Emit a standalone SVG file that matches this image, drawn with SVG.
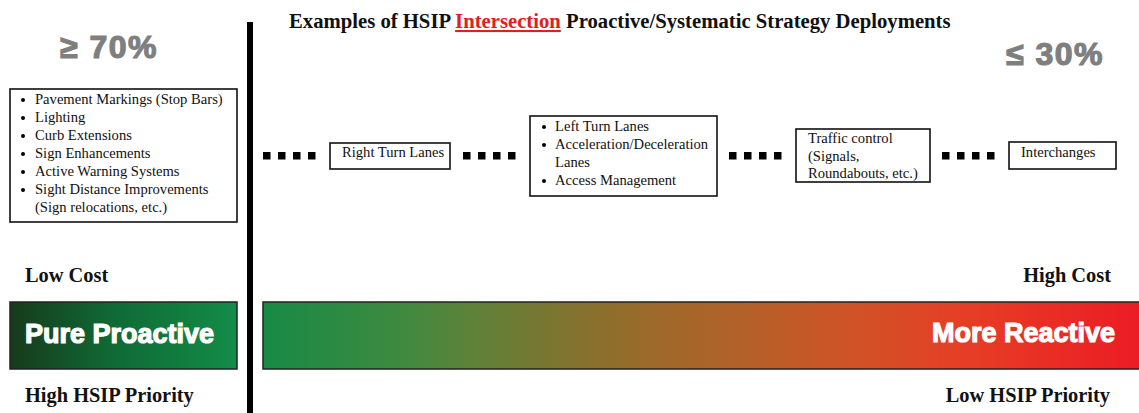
<svg xmlns="http://www.w3.org/2000/svg" width="1139" height="413" viewBox="0 0 1139 413">
<style>
.t{font-family:"Liberation Serif","Times New Roman",serif;font-size:14.6px;fill:#111}
.b{font-family:"Liberation Serif","Times New Roman",serif;font-size:20.4px;font-weight:bold;fill:#111}
.pct{font-family:"Liberation Sans",Arial,sans-serif;font-size:32px;font-weight:bold;fill:#7f7f7f;stroke:#7f7f7f;stroke-width:1.2;letter-spacing:1.5px}
.bar{font-family:"Liberation Sans",Arial,sans-serif;font-size:27px;font-weight:bold;fill:#fff;stroke:#fff;stroke-width:1.2}
.box{fill:#fff;stroke:#111;stroke-width:1.6}
.dot{fill:#000}
</style>
<defs>
<linearGradient id="gL" x1="0" x2="1" y1="0" y2="0">
<stop offset="0" stop-color="#183a1c"/>
<stop offset="0.45" stop-color="#0f6a35"/>
<stop offset="1" stop-color="#138c48"/>
</linearGradient>
<linearGradient id="gR" gradientUnits="userSpaceOnUse" x1="263" x2="1139" y1="0" y2="0">
<stop offset="0" stop-color="#178a46"/>
<stop offset="0.16" stop-color="#3f8a3f"/>
<stop offset="0.24" stop-color="#5e8238"/>
<stop offset="0.33" stop-color="#7b7530"/>
<stop offset="0.44" stop-color="#9c6a2a"/>
<stop offset="0.56" stop-color="#b55f28"/>
<stop offset="0.67" stop-color="#cf5325"/>
<stop offset="0.8" stop-color="#e63e25"/>
<stop offset="1" stop-color="#ec1c24"/>
</linearGradient>
<g id="sq4">
<rect x="0" y="0" width="7.5" height="7.5"/>
<rect x="15" y="0" width="7.5" height="7.5"/>
<rect x="30" y="0" width="7.5" height="7.5"/>
<rect x="45" y="0" width="7.5" height="7.5"/>
</g>
</defs>
<rect width="1139" height="413" fill="#fff"/>

<text id="title" class="b" x="289" y="28" style="font-size:20.7px">Examples of HSIP <tspan fill="#e0201e" text-decoration="underline">Intersection</tspan> Proactive/Systematic Strategy Deployments</text>

<rect id="divider" x="247" y="22" width="6" height="391" fill="#000"/>

<text id="pct70" class="pct" x="60" y="58">≥ 70%</text>
<text id="pct30" class="pct" x="1006" y="65">≤ 30%</text>

<g id="node-left">
<rect class="box" x="10" y="89" width="227" height="133"/>
<g class="dot">
<circle cx="23" cy="100" r="2"/>
<circle cx="23" cy="118" r="2"/>
<circle cx="23" cy="136" r="2"/>
<circle cx="23" cy="154" r="2"/>
<circle cx="23" cy="172" r="2"/>
<circle cx="23" cy="190" r="2"/>
</g>
<text class="t" x="35" y="104">Pavement Markings (Stop Bars)</text>
<text class="t" x="35" y="122">Lighting</text>
<text class="t" x="35" y="140">Curb Extensions</text>
<text class="t" x="35" y="158">Sign Enhancements</text>
<text class="t" x="35" y="176">Active Warning Systems</text>
<text class="t" x="35" y="194">Sight Distance Improvements</text>
<text class="t" x="35" y="212">(Sign relocations, etc.)</text>
</g>

<g id="connectors" class="dot">
<use href="#sq4" x="263" y="152"/>
<use href="#sq4" x="463" y="152"/>
<use href="#sq4" x="729" y="152"/>
<use href="#sq4" x="942" y="152"/>
</g>

<g id="node-right-turn">
<rect class="box" x="330" y="143" width="120" height="26"/>
<text class="t" x="342" y="157">Right Turn Lanes</text>
</g>

<g id="node-left-turn">
<rect class="box" x="530" y="116" width="187" height="80"/>
<g class="dot">
<circle cx="544" cy="127" r="2"/>
<circle cx="544" cy="145" r="2"/>
<circle cx="544" cy="181" r="2"/>
</g>
<text class="t" x="555" y="131">Left Turn Lanes</text>
<text class="t" x="555" y="149">Acceleration/Deceleration</text>
<text class="t" x="555" y="167">Lanes</text>
<text class="t" x="555" y="185">Access Management</text>
</g>

<g id="node-traffic">
<rect class="box" x="796" y="129" width="134" height="53"/>
<text class="t" x="808" y="143">Traffic control</text>
<text class="t" x="808" y="161">(Signals,</text>
<text class="t" x="808" y="178">Roundabouts, etc.)</text>
</g>

<g id="node-interchanges">
<rect class="box" x="1009" y="142" width="107" height="27"/>
<text class="t" x="1021" y="157">Interchanges</text>
</g>

<text id="lowcost" class="b" x="25" y="282">Low Cost</text>
<text id="highcost" class="b" x="1111" y="282" text-anchor="end">High Cost</text>
<text id="highprio" class="b" x="25" y="402">High HSIP Priority</text>
<text id="lowprio" class="b" x="1110" y="402" text-anchor="end">Low HSIP Priority</text>

<g id="node-proactive">
<rect x="10" y="302" width="227" height="67" fill="url(#gL)" stroke="#222" stroke-width="1.5"/>
<text class="bar" x="25" y="343">Pure Proactive</text>
</g>
<g id="node-reactive">
<rect x="263" y="302" width="880" height="67" fill="url(#gR)" stroke="#222" stroke-width="1.5"/>
<text class="bar" x="1115" y="342" text-anchor="end">More Reactive</text>
</g>
</svg>
